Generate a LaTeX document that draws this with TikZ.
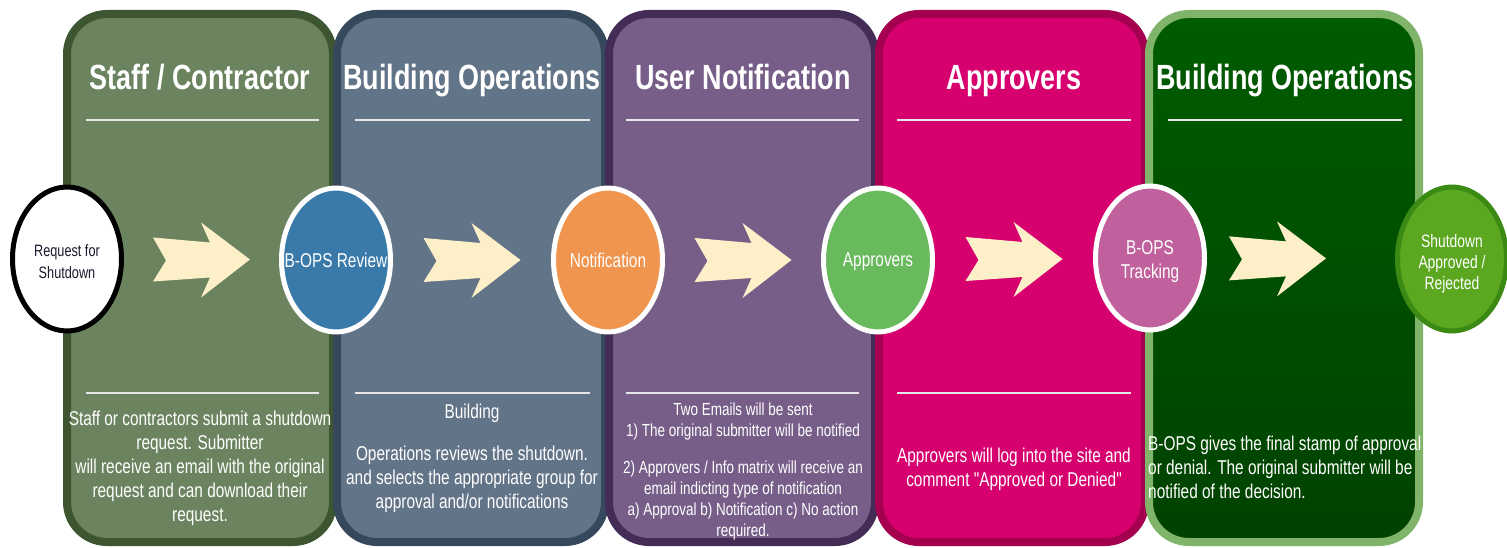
\documentclass[tikz,border=0pt]{standalone}
\usepackage{fontspec}
\setmainfont{Liberation Sans}
\newfontfamily\nar[FakeStretch=0.77]{Liberation Sans}
\usetikzlibrary{shapes.geometric,calc}
\definecolor{pAf}{HTML}{6B845F}\definecolor{pAb}{HTML}{3D5530}
\definecolor{pBf}{HTML}{627487}\definecolor{pBb}{HTML}{35485C}
\definecolor{pCf}{HTML}{765E89}\definecolor{pCb}{HTML}{432D57}
\definecolor{pDf}{HTML}{D6006F}\definecolor{pDb}{HTML}{A5004F}
\definecolor{pEt}{HTML}{005C00}\definecolor{pEm}{HTML}{004200}\definecolor{pEb}{HTML}{80B46A}
\definecolor{linegray}{HTML}{E6E6E6}
\definecolor{chevcol}{HTML}{FDF0C8}
\definecolor{cblue}{HTML}{3A7AAB}
\definecolor{corange}{HTML}{F0954F}
\definecolor{cgreen}{HTML}{69B95D}
\definecolor{cpink}{HTML}{C0609C}
\definecolor{cfinal}{HTML}{5BA820}
\definecolor{cfinalb}{HTML}{3B8A14}
\definecolor{darktext}{HTML}{1A1A2E}
\tikzset{
  panelbox/.style={line width=8pt, rounded corners=40pt},
  ttl/.style={font=\nar\bfseries\fontsize{35}{40}\selectfont, text=white, anchor=base, inner sep=0pt},
  body/.style={font=\nar\fontsize{20}{24}\selectfont, text=white, align=center, anchor=north, inner sep=0pt},
  sepline/.style={draw=linegray, line width=2pt},
  ell/.style={ellipse, minimum width=109pt, minimum height=144pt, line width=5pt, inner sep=0pt},
  ctext/.style={font=\nar\fontsize{20}{24}\selectfont, text=white, align=center, inner sep=0pt},
  chev/.pic={\fill[chevcol] (-48.5,-22) -- (8.5,-17) -- (-0.5,-37) -- (48.5,0) -- (-0.5,38) -- (8.5,18) -- (-48.5,22) -- (-35.5,1) -- cycle;}
}
\begin{document}
\begin{tikzpicture}[x=1pt,y=-1pt]
\useasboundingbox (0,0) rectangle (1507,548);
% panels
\draw[panelbox, draw=pAb, fill=pAf] (67,14) rectangle (333,542);
\draw[panelbox, draw=pBb, fill=pBf] (337,14) rectangle (605,542);
\draw[panelbox, draw=pCb, fill=pCf] (609,14) rectangle (875,542);
\draw[panelbox, draw=pDb, fill=pDf] (879,14) rectangle (1145,542);
\draw[panelbox, draw=pEb, top color=pEt, bottom color=pEm] (1149,14) rectangle (1419,542);
% titles
\node[ttl] (t1) at (200,90) {Staff / Contractor};
\node[ttl] (t2) at (472,90) {Building Operations};
\node[ttl] (t3) at (743,90) {User Notification};
\node[ttl] (t4) at (1014,90) {Approvers};
\node[ttl] (t5) at (1285,90) {Building Operations};
% separator lines
\draw[sepline] (86,120) -- (319,120);
\draw[sepline] (355,120) -- (590,120);
\draw[sepline] (626,120) -- (859,120);
\draw[sepline] (897,120) -- (1131,120);
\draw[sepline] (1168,120) -- (1402,120);
\draw[sepline] (86,393) -- (319,393);
\draw[sepline] (355,393) -- (590,393);
\draw[sepline] (626,393) -- (859,393);
\draw[sepline] (897,393) -- (1131,393);
% body texts
\node[body] (b1) at (200,411) {Staff or contractors submit a shutdown\\request. Submitter\\will receive an email with the original\\request and can download their\\request.};
\node[body] (b2) at (472,404) {Building\\[18pt]Operations reviews the shutdown.\\and selects the appropriate group for\\approval and/or notifications};
\node[body, font=\nar\fontsize{17.5}{21}\selectfont] (b3) at (743,403) {Two Emails will be sent\\1) The original submitter will be notified\\[16pt]2) Approvers / Info matrix will receive an\\email indicting type of notification\\a) Approval b) Notification c) No action\\required.};
\node[body] (b4) at (1014,448) {Approvers will log into the site and\\comment "Approved or Denied"};
\node[body, align=left, anchor=north west] (b5) at (1148,436) {B-OPS gives the final stamp of approval\\or denial. The original submitter will be\\notified of the decision.};
% ellipses
\node[ell, draw=black, fill=white, label={[ctext, yshift=-3pt, text=darktext, font=\nar\fontsize{16.5}{22}\selectfont]center:{Request for\\Shutdown}}] (e1) at (67,259) {};
\node[ell, draw=white, fill=cblue, label={[ctext]center:B-OPS Review}] (e2) at (336,260) {};
\node[ell, draw=white, fill=corange, label={[ctext]center:Notification}] (e3) at (608,260) {};
\node[ell, draw=white, fill=cgreen, label={[ctext, yshift=-2pt]center:Approvers}] (e4) at (878,260) {};
\node[ell, draw=white, fill=cpink, label={[ctext, yshift=-4pt]center:{B-OPS\\Tracking}}] (e5) at (1150,258) {};
\node[ell, draw=cfinalb, fill=cfinal, label={[ctext, yshift=-5pt, font=\nar\fontsize{18}{21}\selectfont]center:{Shutdown\\Approved /\\Rejected}}] (e6) at (1452,259) {};
% chevron arrows
\pic at ($(e1.east)!0.5!(e2.west)$) {chev};
\pic at ($(e2.east)!0.5!(e3.west)$) {chev};
\pic at ($(e3.east)!0.5!(e4.west)$) {chev};
\pic at ($(e4.east)!0.5!(e5.west)$) {chev};
\pic at ($(e5.east)!0.375!(e6.west)$) {chev};
\end{tikzpicture}
\end{document}
